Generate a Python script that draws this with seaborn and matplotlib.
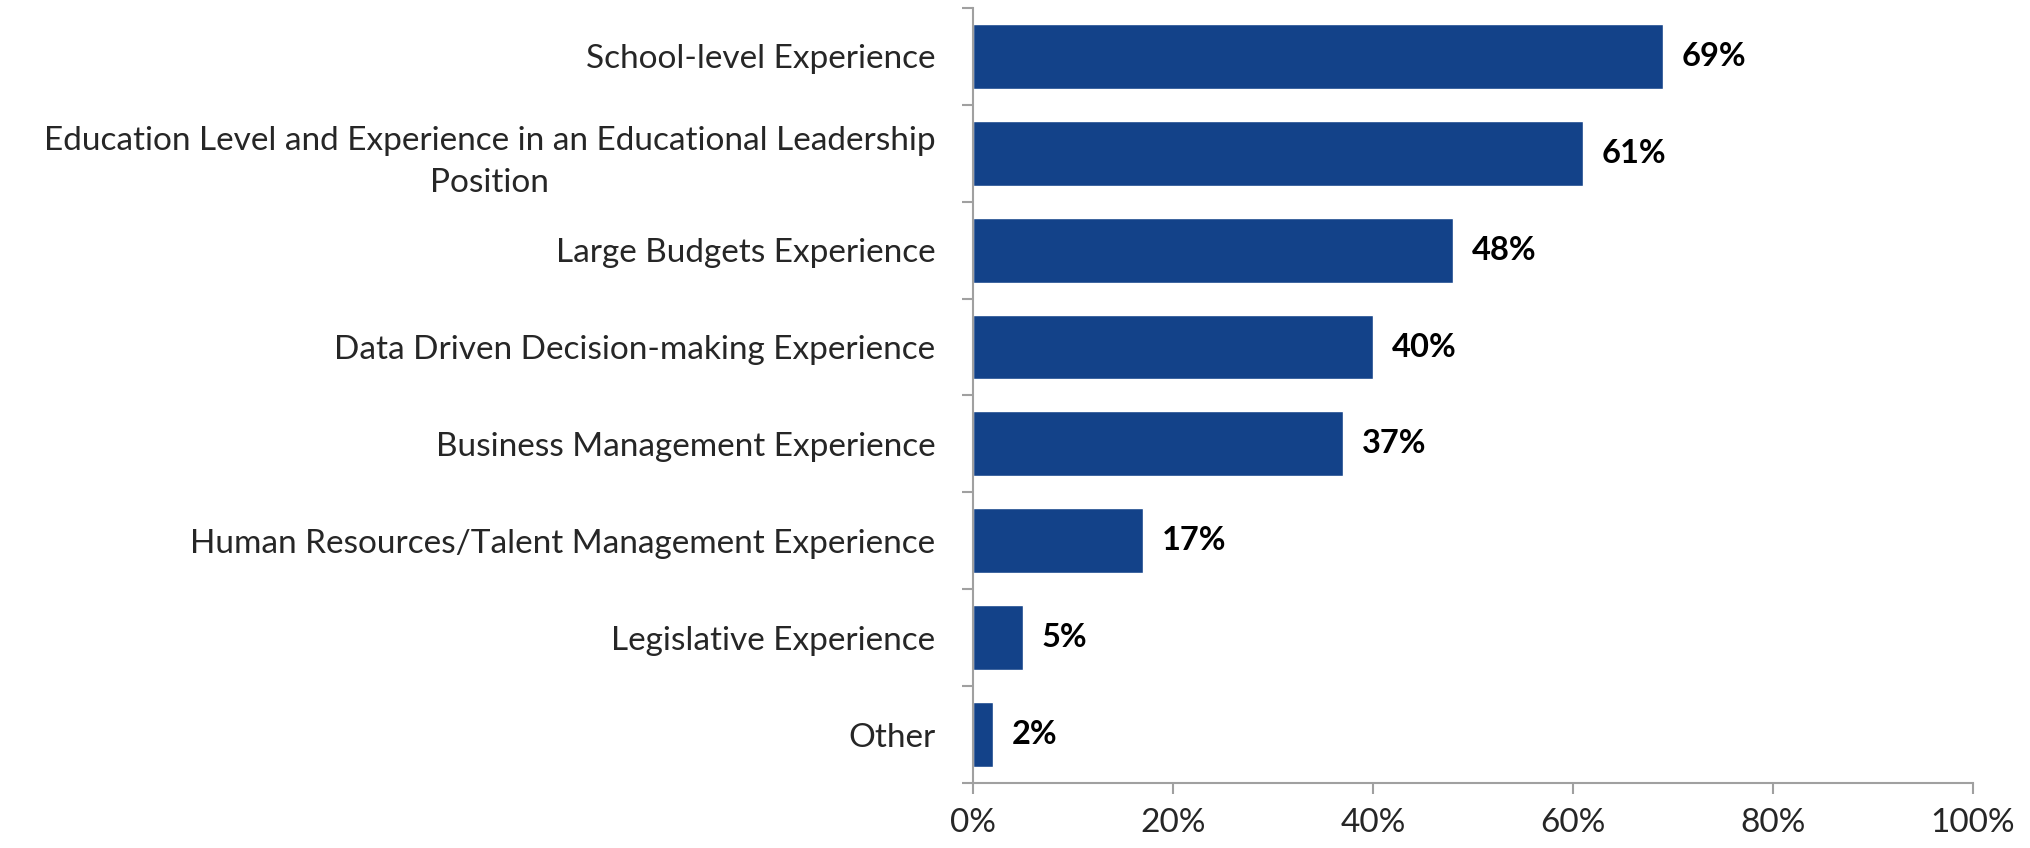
import matplotlib
matplotlib.use("Agg")
import matplotlib.pyplot as plt
import seaborn as sns
import pandas as pd
from matplotlib.ticker import PercentFormatter

categories = [
    "School-level Experience",
    "Education Level and Experience in an Educational Leadership\nPosition",
    "Large Budgets Experience",
    "Data Driven Decision-making Experience",
    "Business Management Experience",
    "Human Resources/Talent Management Experience",
    "Legislative Experience",
    "Other",
]
values = [69, 61, 48, 40, 37, 17, 5, 2]
x_ticks = [0, 20, 40, 60, 80, 100]

sns.set_theme(style="white")
plt.rcParams["font.family"] = ["Lato", "DejaVu Sans"]

df = pd.DataFrame({"category": categories, "value": values})

fig = plt.figure(figsize=(20.3, 8.48), dpi=100)
ax = fig.add_axes([0.4793, 0.0767, 0.4926, 0.9139])

sns.barplot(data=df, x="value", y="category", orient="h", color="#134289",
            saturation=1, width=0.67, ax=ax)

for i, v in enumerate(values):
    ax.text(v + 1.9, i, f"{v}%", va="center", ha="left",
            fontsize=23.5, fontweight="bold", color="black")

ax.set_xlim(0, 100)
ax.set_ylim(len(categories) - 0.5, -0.5)
ax.set_xticks(x_ticks)
ax.xaxis.set_major_formatter(PercentFormatter(decimals=0))
ax.set_xlabel("")
ax.set_ylabel("")

# category boundary ticks on y-axis, labels centred on the bars
ax.set_yticks([i - 0.5 for i in range(len(categories) + 1)], minor=False)
ax.set_yticklabels([])
ax.set_yticks(range(len(categories)), minor=True)
ax.set_yticklabels(categories, minor=True)
for lbl in ax.get_yticklabels(minor=True):
    lbl.set_multialignment("center")
    lbl.set_linespacing(1.5)

ax.tick_params(axis="y", which="major", length=8, width=1.5, color="#A0A0A0", left=True)
ax.tick_params(axis="y", which="minor", length=0, pad=27, labelsize=24)
ax.tick_params(axis="x", which="major", length=8, width=1.5, color="#A0A0A0",
               bottom=True, pad=10, labelsize=24)

for side in ["top", "right"]:
    ax.spines[side].set_visible(False)
for side in ["left", "bottom"]:
    ax.spines[side].set_color("#A0A0A0")
    ax.spines[side].set_linewidth(1.5)

fig.savefig("out.png", dpi=100)
